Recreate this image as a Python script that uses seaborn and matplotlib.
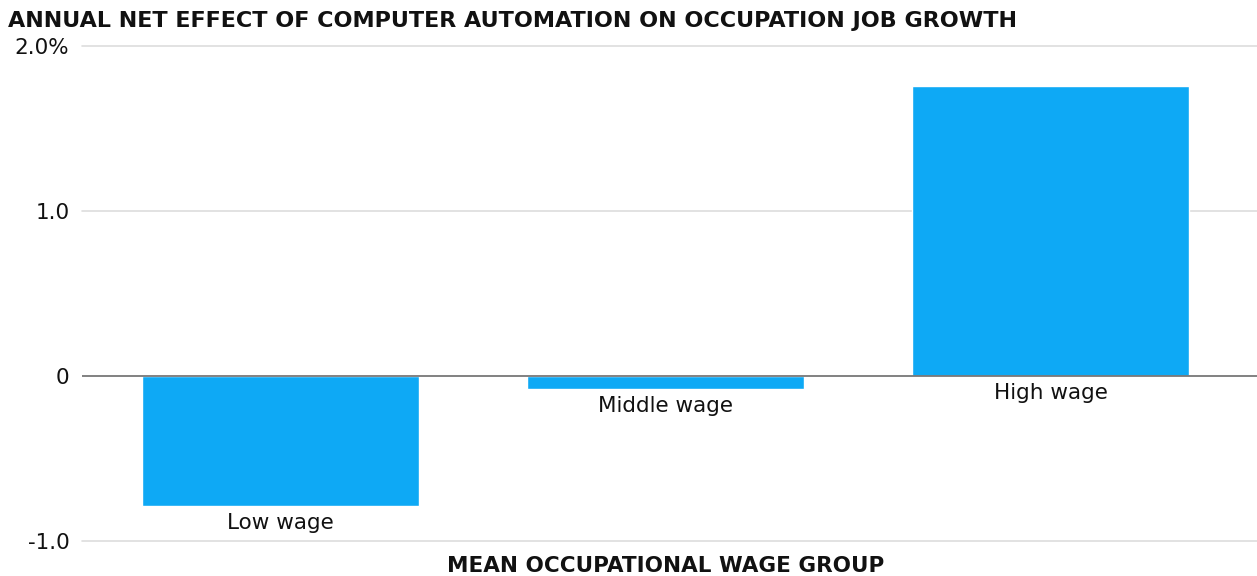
import matplotlib
matplotlib.use("Agg")
import matplotlib.pyplot as plt
import seaborn as sns
import pandas as pd

categories = ["Low wage", "Middle wage", "High wage"]
values = [-0.79, -0.08, 1.76]
yticks = [-1.0, 0.0, 1.0, 2.0]
ytick_labels = ["-1.0", "0", "1.0", "2.0%"]

sns.set_theme(style="white")
plt.rcParams["font.family"] = ["DejaVu Sans"]

W, H = 1257, 576
fig = plt.figure(figsize=(W / 100, H / 100), dpi=100)
ax = fig.add_axes([82 / W, (576 - 541) / H, (1257 - 82) / W, (541 - 46) / H])

df = pd.DataFrame({"group": categories, "value": values})
sns.barplot(data=df, x="group", y="value", color="#0EA9F5", saturation=1,
            width=0.72, ax=ax, zorder=3)

ax.set_xlim(-0.516, 2.536)
ax.set_ylim(-1.0, 2.0)
ax.set_yticks(yticks)
ax.set_yticklabels(ytick_labels, fontsize=15.5, color="#111111")
ax.tick_params(axis="y", length=0, pad=9)
ax.set_xticks([])
ax.set_xlabel("")
ax.set_ylabel("")
for s in ax.spines.values():
    s.set_visible(False)
for t in yticks:
    if t == 0:
        ax.axhline(t, color="#777777", lw=1.3, zorder=4)
    else:
        ax.axhline(t, color="#dddddd", lw=1.2, zorder=1, clip_on=False)

for i, (c, v) in enumerate(zip(categories, values)):
    ax.annotate(c, xy=(i, min(v, 0)), xytext=(0, -5), textcoords="offset points",
                ha="center", va="top", fontsize=15.5, color="#111111")

fig.text(8 / W, 1 - 21 / H, "ANNUAL NET EFFECT OF COMPUTER AUTOMATION ON OCCUPATION JOB GROWTH",
         ha="left", va="center", fontsize=16, fontweight="bold", color="#111111")
fig.text(666 / W, 1 - 566 / H, "MEAN OCCUPATIONAL WAGE GROUP",
         ha="center", va="center", fontsize=15.5, fontweight="bold", color="#111111")

fig.savefig("out.png", dpi=100)
